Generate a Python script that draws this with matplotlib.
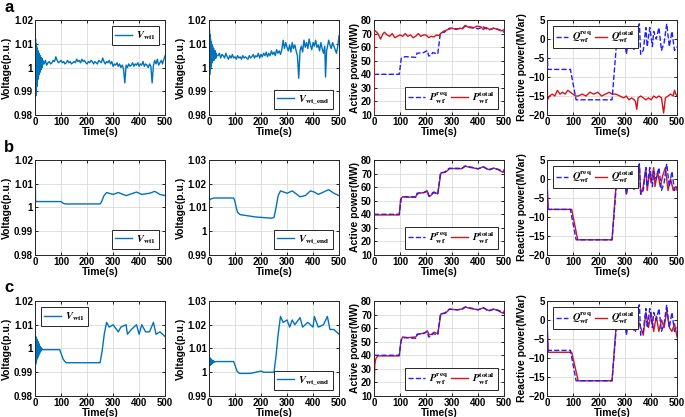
import matplotlib
matplotlib.use('Agg')
import matplotlib.pyplot as plt

plt.rcParams['font.family'] = 'Liberation Sans'
plt.rcParams['font.weight'] = 'bold'
plt.rcParams['mathtext.fontset'] = 'stix'

# ---------------- data ----------------
# row a : voltage at wt1
t_a_v1 = [0, 1, 2, 3, 4, 5, 6, 7, 8, 9, 10, 11, 12, 13, 14, 15, 16, 17, 18, 19, 20, 21, 22, 23, 24, 25, 26, 27, 28, 29, 30,
          35, 40, 45, 50, 55, 60, 65, 70, 75, 80, 85, 90, 95, 100, 105, 110, 115, 120, 125, 130, 135, 140, 145, 150,
          155, 160, 165, 170, 175, 180, 185, 190, 195, 200, 205, 210, 215, 220, 225, 230, 235, 240, 245, 250, 255,
          260, 265, 270, 275, 280, 285, 290, 295, 300, 305, 310, 315, 320, 325, 330, 335, 340, 345, 350, 355, 360,
          365, 370, 375, 380, 385, 390, 395, 400, 405, 410, 415, 420, 425, 430, 435, 440, 445, 450, 455, 460, 465,
          470, 475, 480, 485, 490, 495, 500]
a_v1 = [1.020, 0.987, 1.012, 0.988, 1.010, 0.990, 1.009, 0.992, 1.008, 0.994, 1.007, 0.995, 1.007, 0.996, 1.006, 0.997,
        1.006, 0.998, 1.005, 0.998, 1.005, 0.999, 1.004, 0.999, 1.004, 1.000, 1.004, 1.000, 1.003, 1.001, 1.003,
        1.0015, 1.003, 1.001, 1.002, 1.0025, 1.0015, 1.002, 1.003, 1.0025, 1.0045, 1.003, 1.002, 1.0025, 1.003,
        1.002, 1.0025, 1.0015, 1.002, 1.003, 1.002, 1.0025, 1.0015, 1.002, 1.0025, 1.002, 1.0035, 1.0025, 1.003,
        1.002, 1.0035, 1.0025, 1.003, 1.002, 1.0015, 1.0025, 1.002, 1.003, 1.0025, 1.0015, 1.0025, 1.002, 1.0015,
        1.003, 1.0025, 1.002, 1.004, 1.0025, 1.0015, 1.0025, 1.002, 1.003, 1.0015, 1.0025, 1.0005, 1.0015, 1.001,
        1.002, 1.0005, 1.0015, 1.000, 1.001, 0.9995, 0.9935, 1.001, 1.000, 1.0015, 1.0005, 1.001, 1.002, 1.0005,
        1.0015, 1.001, 1.002, 1.0005, 1.0015, 1.001, 1.0025, 1.0005, 1.0015, 1.001, 1.000, 1.0015, 1.0005, 0.9935,
        1.001, 1.003, 1.0015, 1.0035, 1.001, 1.002, 1.003, 1.0015, 1.0035, 1.005]

# row a : voltage at the feeder end
t_a_v2 = [0, 1, 2, 3, 4, 5, 6, 7, 8, 9, 10, 11, 12, 13, 14, 15, 16, 17, 18, 19, 20, 21, 22, 23, 24, 25, 26, 27, 28, 29, 30,
          35, 40, 45, 50, 55, 60, 65, 70, 75, 80, 85, 90, 95, 100, 105, 110, 115, 120, 125, 130, 135, 140, 145, 150,
          155, 160, 165, 170, 175, 180, 185, 190, 195, 200, 205, 210, 215, 220, 225, 230, 235, 240, 245, 250, 255,
          260, 265, 270, 275, 280, 285, 290, 295, 300, 305, 310, 315, 320, 325, 330, 335, 340, 345, 350, 355, 360,
          365, 370, 375, 380, 385, 390, 395, 400, 405, 410, 415, 420, 425, 430, 435, 440, 445, 448, 452, 455, 460,
          465, 470, 475, 480, 485, 490, 495, 500]
a_v2 = [1.020, 0.995, 1.016, 0.997, 1.014, 0.999, 1.012, 1.000, 1.011, 1.001, 1.010, 1.002, 1.009, 1.002, 1.009, 1.003,
        1.008, 1.003, 1.008, 1.003, 1.007, 1.004, 1.007, 1.004, 1.007, 1.004, 1.006, 1.004, 1.006, 1.005, 1.005,
        1.005, 1.006, 1.004, 1.0055, 1.005, 1.004, 1.006, 1.0045, 1.0035, 1.005, 1.004, 1.0055, 1.004, 1.0045,
        1.0035, 1.005, 1.004, 1.0045, 1.0035, 1.005, 1.004, 1.0045, 1.004, 1.0035, 1.005, 1.004, 1.0045, 1.0055,
        1.004, 1.005, 1.0045, 1.006, 1.004, 1.0055, 1.0045, 1.006, 1.005, 1.0065, 1.0045, 1.006, 1.005, 1.007,
        1.0055, 1.0065, 1.005, 1.0075, 1.006, 1.007, 1.0055, 1.0075, 1.0115, 1.008, 1.0105, 1.0085, 1.007, 1.0095,
        1.0065, 1.0105, 1.008, 1.0095, 1.007, 1.005, 0.9955, 1.007, 1.009, 1.0065, 1.0115, 1.0085, 1.0105, 1.008,
        1.012, 1.0095, 1.0075, 1.0105, 1.009, 1.0115, 1.0085, 1.0095, 1.007, 1.0105, 1.008, 1.006, 1.009, 0.996,
        1.007, 1.0085, 1.0115, 1.0095, 1.008, 1.0105, 1.009, 1.0075, 1.006, 1.009, 1.0135]

# active power request (same in all rows)
t_p_req = [0, 97, 105, 120, 160, 165, 190, 205, 210, 220, 225, 245, 255, 270, 290, 320, 340, 350, 380, 400, 420,
           440, 460, 480, 500]
p_req = [40, 40, 52, 53, 52.5, 55.5, 56, 57.5, 53.5, 54, 56, 55, 70.5, 71, 74, 73.5, 74, 75.5, 74.5, 73.5, 75,
         72.5, 74, 73, 71]

# row a : active power delivered
t_a_p = [0, 1, 5, 15, 25, 35, 40, 50, 60, 70, 80, 90, 100, 110, 120, 130, 140, 150, 160, 170, 180, 190, 200,
         210, 220, 230, 240, 250, 255, 270, 285, 300, 315, 330, 340, 350, 365, 380, 395, 410, 420, 430, 445,
         460, 475, 490, 500]
a_p = [10, 71, 72, 70, 66, 70, 71, 69, 68, 70, 67, 68, 69, 68, 70, 68, 69, 67, 68, 70, 68, 69, 69,
       67, 68, 67.5, 69, 68.5, 70, 72, 73, 74, 73, 74, 73.5, 76, 74.5, 74, 75.5, 75, 73, 74.5, 73,
       74, 73, 72, 73]

# row b / c : active power delivered
t_b_p = [0, 1, 97, 102, 110, 130, 160, 170, 195, 205, 212, 222, 230, 245, 257, 275, 290, 320, 335, 350, 370,
         400, 420, 440, 460, 475, 495, 500]
b_p = [10, 39.5, 39.5, 51, 53, 52.5, 53, 55.5, 56, 57, 53, 54.5, 56.5, 55, 70.5, 71, 73.5, 74, 73.5, 75.5, 74.5,
       73.5, 75, 73, 74, 73, 71, 73]
t_c_p = [0, 3, 6, 10, 15, 97, 103, 110, 130, 160, 170, 195, 205, 212, 222, 230, 245, 257, 275, 290, 320, 335,
         350, 370, 400, 420, 440, 460, 475, 495, 500]
c_p = [10, 33, 37, 38.5, 39.5, 39.5, 50, 53.5, 53, 53.5, 55.5, 56.5, 58, 55, 55.5, 57, 56, 70.5, 71, 74, 73.5,
       74, 75.5, 74.5, 73.5, 75, 73, 74, 73, 71, 72.5]

# reactive power request
t_q_req = [0, 3, 90, 112, 250, 272, 285, 295, 305, 315, 325, 335, 345, 355, 360, 370, 380, 385, 395, 405, 410,
           420, 430, 440, 450, 460, 470, 480, 490, 500]
q_req = [0, -8, -8, -16, -16, 3, 0, 2, -4, 1, 3, -3, 2, 4, -4, -3, 3, -2, 3, -2, 2,
         0, 3, -3, -1, 4, -2, 2, -3, -2]

# row a : reactive power delivered
t_a_q = [0, 2, 10, 20, 30, 40, 50, 60, 70, 80, 90, 100, 110, 120, 135, 150, 165, 180, 195, 210, 225, 240, 250,
         265, 280, 295, 305, 315, 325, 335, 340, 345, 350, 360, 370, 380, 390, 400, 410, 420, 430, 440, 448,
         455, 465, 475, 485, 490, 495, 500]
a_q = [0, -16, -15, -14.5, -15, -13.5, -14.5, -14, -14.5, -13.5, -14, -14.5, -15, -15, -14.5, -15, -14, -14.5,
       -14, -15, -14.5, -14, -14.5, -14.5, -15, -15.5, -15, -16, -15.5, -16, -16.5, -18.5, -15.5, -15, -15.5,
       -16, -15.5, -16, -15, -15.5, -15, -15.5, -19.5, -15.5, -15, -14.5, -15, -13.5, -14.5, -15]

# row b / c : reactive power delivered
t_b_q = [0, 5, 95, 118, 250, 270, 280, 290, 300, 305, 315, 325, 335, 345, 355, 360, 370, 380, 385, 395, 400,
         410, 415, 425, 435, 445, 455, 465, 475, 485, 495, 500]
b_q = [0, -8, -8, -16, -16, 3, 0, -2, 1, -4, 0, 3, -2, 0, 3.5, -4, -2, 3, -3, 2, -1,
       3, -2, 2, -2, 1, 3, -3, 0, -3, -2, -3]
t_c_q = [0, 5, 95, 120, 250, 270, 280, 290, 300, 310, 320, 330, 340, 350, 360, 370, 380, 390, 400, 410, 420,
         430, 440, 450, 460, 470, 480, 490, 500]
c_q = [1, -8.5, -8.5, -16, -16, 2.5, -1, 1.5, -2, 1, -1.5, 2, -3, 0, -2, -4, 2, -2, 2, -3, 1,
       -3, 0, -2, 2.5, -2, -3, -1, -4.5]

# row b voltages
t_b_v1 = [0, 0.5, 1, 2, 5, 100, 105, 112, 120, 250, 256, 265, 275, 300, 320, 350, 390, 410, 440, 460, 480, 500]
b_v1 = [1.02, 0.984, 1.013, 1.003, 1.0025, 1.0025, 1.002, 1.0016, 1.0015, 1.0015, 1.0025, 1.005, 1.0063,
        1.0055, 1.0063, 1.005, 1.0065, 1.0055, 1.006, 1.0068, 1.0055, 1.005]
t_b_v2 = [0, 0.5, 2, 5, 20, 95, 100, 105, 110, 120, 180, 240, 250, 258, 266, 275, 300, 320, 350, 370, 390,
          405, 420, 450, 460, 480, 500]
b_v2 = [1.021, 0.995, 1.013, 1.0135, 1.014, 1.014, 1.0125, 1.010, 1.008, 1.007, 1.006, 1.0055, 1.0058, 1.010,
        1.015, 1.017, 1.016, 1.017, 1.0145, 1.015, 1.017, 1.0165, 1.0155, 1.017, 1.0175, 1.016, 1.015]

# row c voltages
t_c_v1 = [0, 0.5, 1, 2, 3, 4, 5, 6, 7, 8, 9, 10, 11, 12, 13, 14, 15, 16, 17, 18, 19, 20, 22, 24, 26, 28, 30,
          95, 100, 108, 115, 120, 250, 258, 266, 275, 285, 300, 320, 330, 350, 355, 370, 390, 400, 410, 425,
          440, 455, 465, 480, 500]
c_v1 = [1.0135, 0.980, 1.005, 0.993, 1.005, 0.994, 1.004, 0.995, 1.004, 0.996, 1.003, 0.996, 1.003, 0.997,
        1.002, 0.997, 1.002, 0.998, 1.001, 0.998, 1.001, 0.999, 1.0005, 0.999, 1.000, 0.9995, 0.9995,
        0.9995, 0.998, 0.9955, 0.9945, 0.994, 0.994, 0.999, 1.006, 1.011, 1.009, 1.010, 1.007, 1.009, 1.010,
        1.006, 1.008, 1.010, 1.006, 1.010, 1.007, 1.007, 1.011, 1.006, 1.007, 1.005]
t_c_v2 = [0, 1, 2, 3, 4, 5, 6, 7, 8, 9, 10, 11, 12, 13, 14, 15, 16, 18, 20, 25, 30, 95, 100, 108, 115, 120,
          160, 200, 210, 250, 258, 266, 275, 285, 300, 310, 320, 330, 350, 360, 380, 400, 405, 420, 440, 455,
          465, 480, 500]
c_v2 = [0.991, 1.002, 1.0025, 1.006, 1.003, 1.006, 1.003, 1.0055, 1.0035, 1.0055, 1.0035, 1.005, 1.004, 1.005,
        1.004, 1.005, 1.004, 1.0048, 1.0042, 1.0045, 1.0045, 1.0045, 1.003, 1.0005, 0.9997, 0.9995, 0.9995,
        1.0005, 1.0, 1.0, 1.007, 1.016, 1.0235, 1.021, 1.022, 1.019, 1.022, 1.020, 1.023, 1.019, 1.021, 1.019,
        1.0235, 1.019, 1.020, 1.0235, 1.018, 1.018, 1.016]

v_label1 = r'$\mathbfit{V}_{\mathbf{wt1}}$'
v_label2 = r'$\mathbfit{V}_{\mathbf{wt\_end}}$'
p_labels = [r'$\mathbfit{P}_{\mathbf{wf}}^{\mathbf{req}}$', r'$\mathbfit{P}_{\mathbf{wf}}^{\mathbf{total}}$']
q_labels = [r'$\mathbfit{Q}_{\mathbf{wf}}^{\mathbf{req}}$', r'$\mathbfit{Q}_{\mathbf{wf}}^{\mathbf{total}}$']

# ---------------- figure ----------------
VCOL = '#0072BD'
RCOL = '#D7141A'
BCOL = '#1F1FFF'

fig = plt.figure(figsize=(6.85, 4.17), dpi=100)
lefts = [0.0511, 0.305, 0.546, 0.7985]
bottoms = [0.7242, 0.3885, 0.0504]
W, H = 0.19, 0.2278


def style(ax, ylim, yticks, ylabel):
    ax.set_xlim(0, 500)
    ax.set_ylim(*ylim)
    ax.set_xticks(range(0, 501, 100))
    ax.set_yticks(yticks)
    ax.grid(True, color='#DADADA', linewidth=0.6)
    ax.set_axisbelow(True)
    ax.tick_params(direction='in', top=True, right=True, length=2.5, width=0.6, labelsize=7, pad=1.5)
    for lab in ax.get_xticklabels() + ax.get_yticklabels():
        lab.set_fontweight('bold')
    for s in ax.spines.values():
        s.set_linewidth(0.7)
        s.set_color('#262626')
    ax.set_xlabel('Time(s)', fontsize=7.5, fontweight='bold', labelpad=0)
    ax.set_ylabel(ylabel, fontsize=7.5, fontweight='bold', labelpad=1)


def leg(ax, loc, ncol=1, hl=1.6):
    l = ax.legend(loc=loc, ncol=ncol, fontsize=7.5, handlelength=hl, handletextpad=0.4, columnspacing=0.3,
                  borderpad=0.3, fancybox=False, framealpha=1, borderaxespad=0.6)
    l.get_frame().set_edgecolor('#262626')
    l.get_frame().set_linewidth(0.7)


v_rows = [((t_a_v1, a_v1), (t_a_v2, a_v2)),
          ((t_b_v1, b_v1), (t_b_v2, b_v2)),
          ((t_c_v1, c_v1), (t_c_v2, c_v2))]
p_rows = [(t_a_p, a_p), (t_b_p, b_p), (t_c_p, c_p)]
q_rows = [(t_a_q, a_q), (t_b_q, b_q), (t_c_q, c_q)]
v1_ylims = [(0.98, 1.02), (0.98, 1.02), (0.98, 1.02)]
v2_ylims = [(0.98, 1.02), (0.99, 1.03), (0.99, 1.03)]
v1_locs = ['upper right', 'lower right', 'upper left']
v2_locs = ['lower right', 'lower right', 'lower right']
panel = ['a', 'b', 'c']

for r in range(3):
    b = bottoms[r]
    # voltage wt1
    ax = fig.add_axes([lefts[0], b, W, H])
    ax.plot(v_rows[r][0][0], v_rows[r][0][1], color=VCOL, lw=1.0, label=v_label1)
    lo, hi = v1_ylims[r]
    style(ax, (lo, hi), [lo, lo + 0.01, lo + 0.02, lo + 0.03, hi], 'Voltage(p.u.)')
    ax.set_yticklabels(['%g' % round(v, 2) for v in ax.get_yticks()], fontweight='bold')
    leg(ax, v1_locs[r])
    # voltage end
    ax = fig.add_axes([lefts[1], b, W, H])
    ax.plot(v_rows[r][1][0], v_rows[r][1][1], color=VCOL, lw=1.0, label=v_label2)
    lo, hi = v2_ylims[r]
    style(ax, (lo, hi), [lo, lo + 0.01, lo + 0.02, lo + 0.03, hi], 'Voltage(p.u.)')
    ax.set_yticklabels(['%g' % round(v, 2) for v in ax.get_yticks()], fontweight='bold')
    leg(ax, v2_locs[r])
    # active power
    ax = fig.add_axes([lefts[2], b, W, H])
    ax.plot(t_p_req, p_req, '--', color=BCOL, lw=1.0, label=p_labels[0], zorder=3)
    ax.plot(p_rows[r][0], p_rows[r][1], '-', color=RCOL, lw=1.0, label=p_labels[1], zorder=2 if r else 4)
    style(ax, (10, 80), range(10, 81, 10), 'Active power(MW)')
    leg(ax, 'lower right', ncol=2)
    # reactive power
    ax = fig.add_axes([lefts[3], b, W, H])
    ax.plot(t_q_req, q_req, '--', color=BCOL, lw=1.0, label=q_labels[0], zorder=3)
    ax.plot(q_rows[r][0], q_rows[r][1], '-', color=RCOL, lw=1.0, label=q_labels[1], zorder=2)
    style(ax, (-20, 5), range(-20, 6, 5), 'Reactive power(MVar)')
    leg(ax, 'upper left', ncol=2, hl=1.1)

    fig.text(0.006, 1 - (8 + 140 * r) / 417, panel[r], fontsize=12, fontweight='bold', va='center', ha='left')

fig.savefig('out.png', dpi=100)
